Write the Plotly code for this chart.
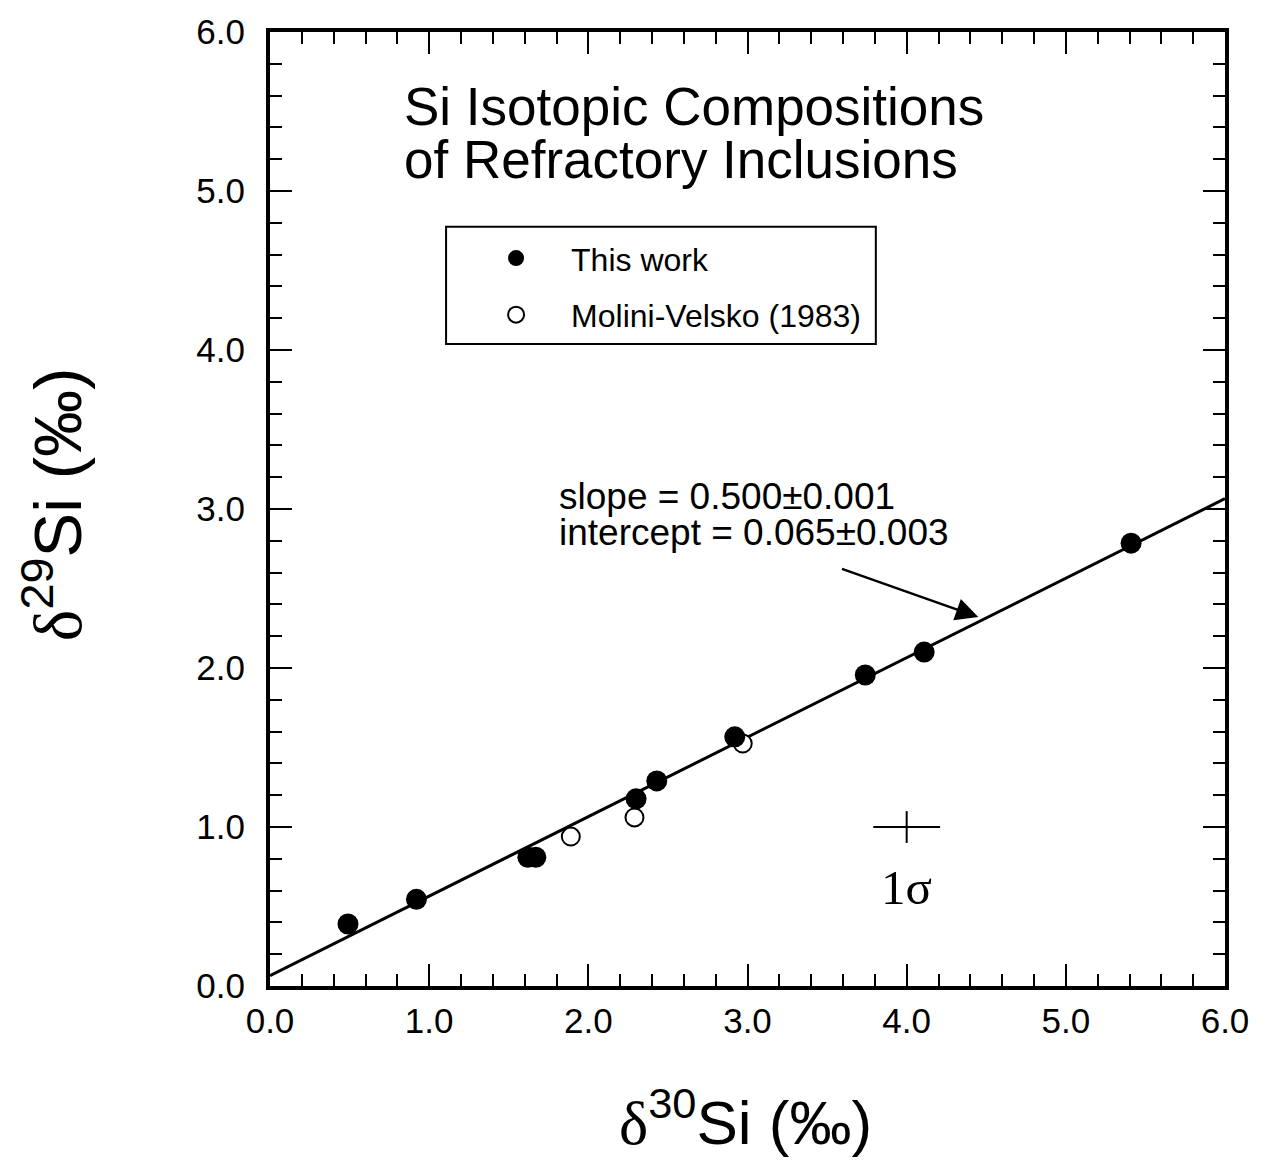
import plotly.graph_objects as go

# Data
this_work_x = [0.49, 0.92, 1.62, 1.67, 2.30, 2.43, 2.92, 3.74, 4.11, 5.41]
this_work_y = [0.39, 0.545, 0.81, 0.81, 1.177, 1.29, 1.567, 1.956, 2.10, 2.785]
mv_x = [1.89, 2.29, 2.97]
mv_y = [0.94, 1.06, 1.525]

slope = 0.500
intercept = 0.065
fit_x = [0.0, 6.0]
fit_y = [intercept + slope * v for v in fit_x]

sigma_x = [4.0]
sigma_y = [1.0]
sigma_ex = [0.21]
sigma_ey = [0.10]

tick_vals = [0, 1, 2, 3, 4, 5, 6]
tick_text = ["0.0", "1.0", "2.0", "3.0", "4.0", "5.0", "6.0"]

SANS = "Liberation Sans, Arial, Helvetica, sans-serif"
SERIF = "Liberation Serif, Times New Roman, serif"

fig = go.Figure()

fig.add_trace(go.Scatter(x=fit_x, y=fit_y, mode="lines",
                         line=dict(color="black", width=3),
                         showlegend=False, hoverinfo="skip"))

fig.add_trace(go.Scatter(x=sigma_x, y=sigma_y, mode="markers",
                         marker=dict(size=1, color="rgba(0,0,0,0)"),
                         error_x=dict(type="data", array=sigma_ex, width=0,
                                      thickness=2, color="black"),
                         error_y=dict(type="data", array=sigma_ey, width=0,
                                      thickness=2, color="black"),
                         showlegend=False, hoverinfo="skip"))

fig.add_trace(go.Scatter(x=mv_x, y=mv_y, mode="markers",
                         name="Molini-Velsko (1983)",
                         legendgroup="b", legendrank=2,
                         marker=dict(size=18, color="white",
                                     line=dict(color="black", width=2))))

fig.add_trace(go.Scatter(x=this_work_x, y=this_work_y, mode="markers",
                         name="This work",
                         legendgroup="a", legendrank=1,
                         marker=dict(size=21, color="black",
                                     line=dict(color="black", width=0))))

axis_common = dict(
    range=[0, 6],
    tickvals=tick_vals,
    ticktext=tick_text,
    ticks="inside",
    ticklen=22,
    tickwidth=2,
    tickcolor="black",
    showline=True,
    linecolor="black",
    linewidth=4,
    mirror="allticks",
    showgrid=False,
    zeroline=False,
    tickfont=dict(family=SANS, size=35, color="black"),
    minor=dict(dtick=0.2, ticks="inside", ticklen=12, tickwidth=2,
               tickcolor="black", showgrid=False),
)

fig.update_xaxes(**axis_common, ticklabelstandoff=1)
fig.update_yaxes(**axis_common, ticklabelstandoff=14)

L, R, T, B = 270, 31, 26, 175
W, H = 1261, 1161
PW = W - L - R
PH = H - T - B

def px_x(p):
    return (p - L) / PW

def px_y(p):
    return (H - B - p) / PH

annotations = [
    dict(text="Si Isotopic Compositions", x=px_x(403), y=px_y(101),
         xref="paper", yref="paper", xanchor="left", yanchor="middle",
         showarrow=False, font=dict(family=SANS, size=53, color="black")),
    dict(text="of Refractory Inclusions", x=px_x(403), y=px_y(154),
         xref="paper", yref="paper", xanchor="left", yanchor="middle",
         showarrow=False, font=dict(family=SANS, size=53, color="black")),
    dict(text="slope = 0.500±0.001", x=px_x(559), y=px_y(493),
         xref="paper", yref="paper", xanchor="left", yanchor="middle",
         showarrow=False, font=dict(family=SANS, size=37, color="black")),
    dict(text="intercept = 0.065±0.003", x=px_x(559), y=px_y(530),
         xref="paper", yref="paper", xanchor="left", yanchor="middle",
         showarrow=False, font=dict(family=SANS, size=37, color="black")),
    dict(text="1σ", x=4.0, y=0.62, xref="x", yref="y",
         xanchor="center", yanchor="middle", showarrow=False,
         font=dict(family=SERIF, size=49, color="black")),
    dict(x=4.45, y=2.32, xref="x", yref="y",
         ax=3.575, ay=2.63, axref="x", ayref="y",
         showarrow=True, arrowhead=2, arrowsize=1.8, arrowwidth=2.5,
         arrowcolor="black", text=" "),
    dict(text="<span style='font-family:Liberation Serif, serif'>δ</span><sup>30</sup>Si (‰)",
         x=px_x(748), y=px_y(1119), xref="paper", yref="paper",
         xanchor="center", yanchor="middle", showarrow=False,
         font=dict(family=SANS, size=62, color="black")),
    dict(text="<span style='font-family:Liberation Serif, serif'>δ</span><sup>29</sup>Si (‰)",
         x=px_x(52), y=px_y(501), xref="paper", yref="paper",
         xanchor="center", yanchor="middle", showarrow=False, textangle=-90,
         font=dict(family=SANS, size=67, color="black")),
]

shapes = [
    dict(type="rect", xref="paper", yref="paper",
         x0=px_x(447), x1=px_x(879), y0=px_y(222), y1=px_y(340),
         line=dict(color="black", width=2), fillcolor="rgba(0,0,0,0)"),
]

fig.update_layout(
    width=W, height=H,
    margin=dict(l=L, r=R, t=T, b=B, pad=0),
    paper_bgcolor="white", plot_bgcolor="white",
    annotations=annotations,
    shapes=shapes,
    legend=dict(x=px_x(449), y=px_y(226), xanchor="left", yanchor="top",
                bgcolor="rgba(0,0,0,0)", borderwidth=0,
                font=dict(family=SANS, size=32, color="black"),
                indentation=13, itemwidth=100, tracegroupgap=12,
                traceorder="grouped"),
)

fig.write_html("out.html")
